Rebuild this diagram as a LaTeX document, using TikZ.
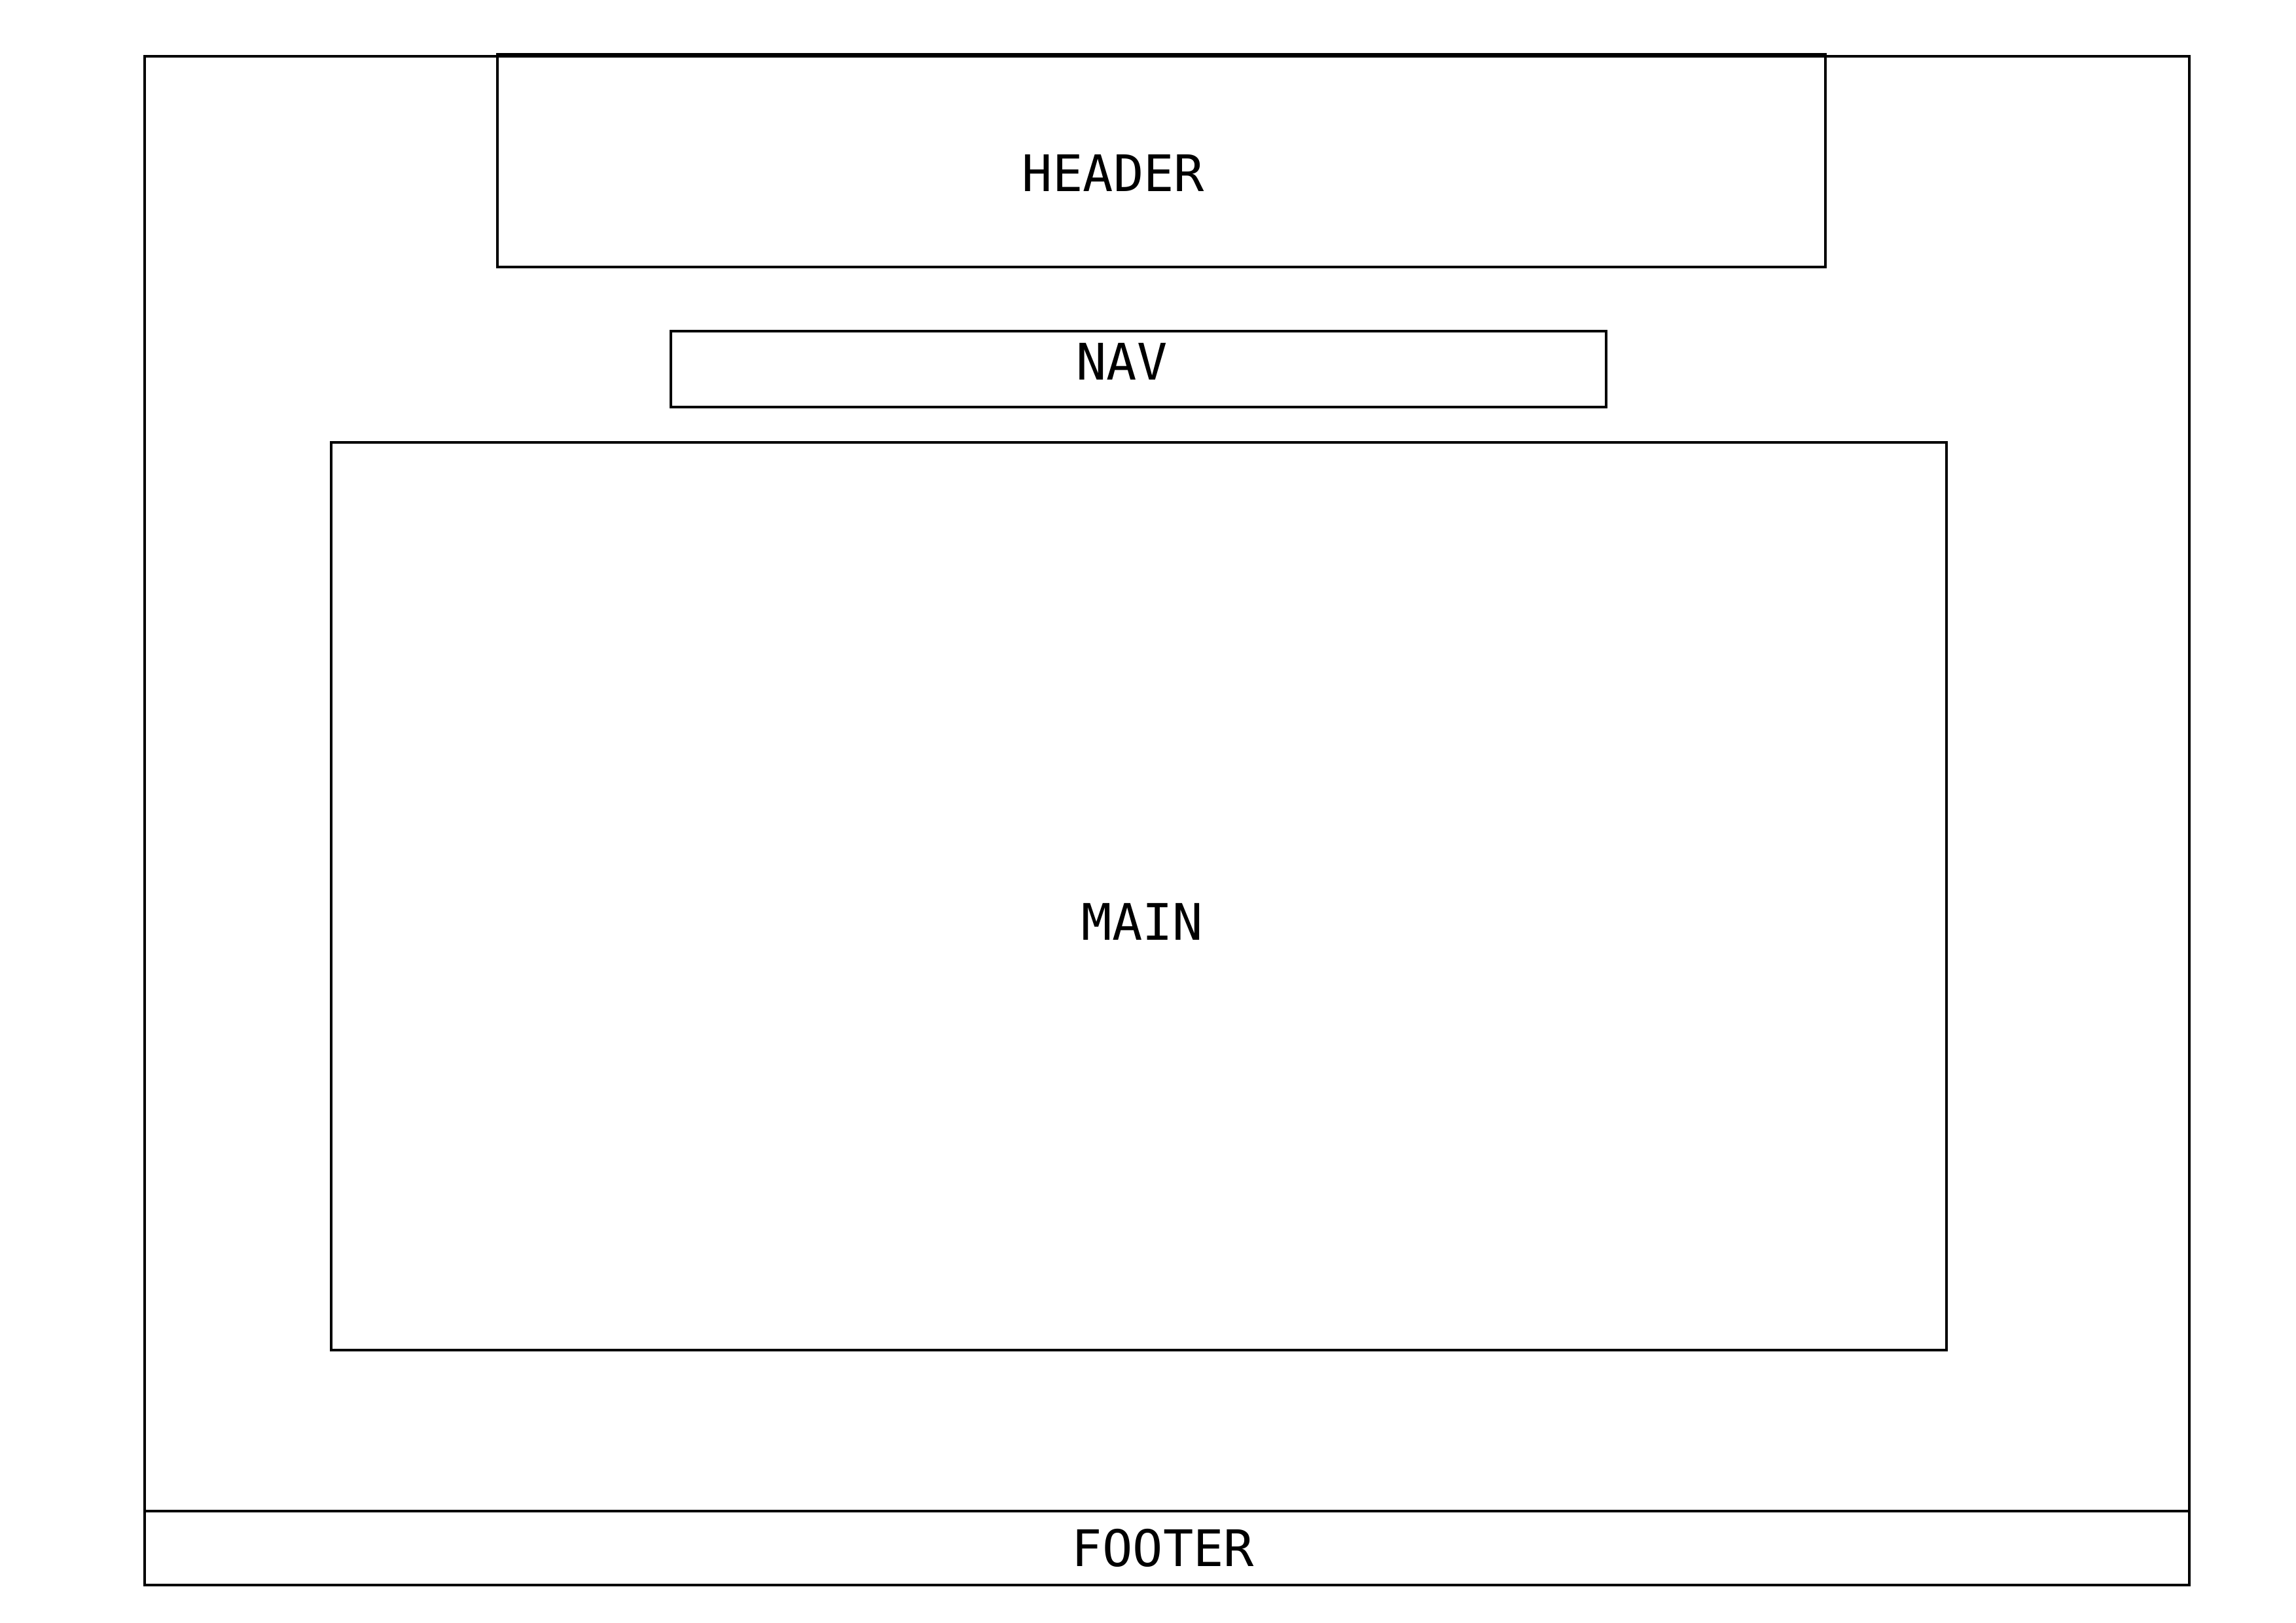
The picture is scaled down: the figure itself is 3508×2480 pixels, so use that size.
\documentclass[tikz,border=0pt]{standalone}
\usepackage{fontspec}
\setmonofont{DejaVu Sans Mono}
\begin{document}
\begin{tikzpicture}[x=0.2pt,y=-0.2pt,
  boxshape/.style={draw=black, line width=0.8pt, inner sep=0pt, rectangle},
  boxlabel/.style={inner sep=0pt, font=\ttfamily\fontsize{15.4}{18}\selectfont}]
\useasboundingbox (0,0) rectangle (3508,2480);
\fill[white] (0,0) rectangle (3508,2480);
\node[boxshape, minimum width=624.8pt, minimum height=467pt] (outer) at (1783,1254) {};
\node[boxshape, minimum width=624.8pt, minimum height=22.5pt] (footer) at (1783,2365.5) {};
\node[boxshape, minimum width=405.8pt, minimum height=65pt] (header) at (1774.5,245.5) {};
\node[boxshape, minimum width=285.8pt, minimum height=23.2pt] (nav) at (1739.5,564) {};
\node[boxshape, minimum width=493.6pt, minimum height=277.4pt] (main) at (1740,1369) {};
\node[boxlabel] (headertext) at (1701,264) {HEADER};
\node[boxlabel] (navtext) at (1714,552) {NAV};
\node[boxlabel] (maintext) at (1745.5,1408) {MAIN};
\node[boxlabel] (footertext) at (1777,2365) {FOOTER};
\end{tikzpicture}
\end{document}
